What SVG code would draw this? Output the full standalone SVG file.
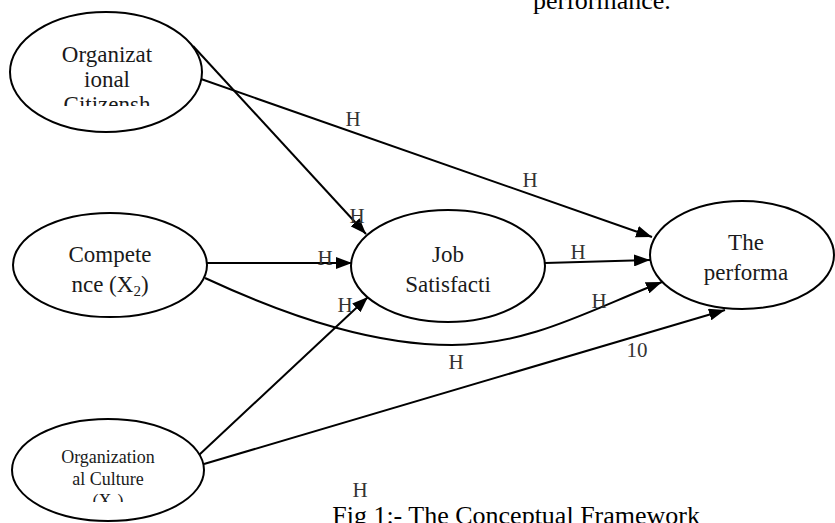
<svg xmlns="http://www.w3.org/2000/svg" width="835" height="523" viewBox="0 0 835 523">
<style>
.node ellipse{fill:#fff;stroke:#000;stroke-width:2}
.nt{font-family:"Liberation Serif","Times New Roman",serif;font-size:23px;fill:#1a1a1a;text-anchor:middle}
.nts{font-family:"Liberation Serif","Times New Roman",serif;font-size:18px;fill:#1a1a1a;text-anchor:middle}
.edge{fill:none;stroke:#000;stroke-width:2}
.lbl{font-family:"Liberation Serif","Times New Roman",serif;font-size:21px;fill:#333;text-anchor:middle}
.cap{font-family:"Liberation Serif","Times New Roman",serif;font-size:26px;fill:#000}
</style>
<defs>
<marker id="arr" markerUnits="userSpaceOnUse" markerWidth="17" markerHeight="12" refX="16" refY="6" orient="auto">
<path d="M0,0 L16,6 L0,12 z" fill="#000"/>
</marker>
<clipPath id="c1"><rect x="0" y="0" width="220" height="106"/></clipPath>
<clipPath id="c3"><rect x="0" y="420" width="220" height="82"/></clipPath>
</defs>
<rect width="835" height="523" fill="#fff"/>
<text class="cap" x="533" y="9">performance.</text>
<g id="connectors">
<path class="edge" d="M193,46 L366,234" marker-end="url(#arr)"/>
<path class="edge" d="M201,79 L652,237" marker-end="url(#arr)"/>
<path class="edge" d="M207,263 L352,263" marker-end="url(#arr)"/>
<path class="edge" d="M205,278 C300,322 380,345 452,345 C530,345 590,310 662,282" marker-end="url(#arr)"/>
<path class="edge" d="M199,455 L368,297" marker-end="url(#arr)"/>
<path class="edge" d="M204,464 L725,310" marker-end="url(#arr)"/>
<path class="edge" d="M545,263 L650,260" marker-end="url(#arr)"/>
<text class="lbl" x="357" y="223">H</text>
<text class="lbl" x="353" y="126">H</text>
<text class="lbl" x="530" y="187">H</text>
<text class="lbl" x="325" y="265">H</text>
<text class="lbl" x="345" y="312">H</text>
<text class="lbl" x="578" y="259">H</text>
<text class="lbl" x="599" y="308">H</text>
<text class="lbl" x="456" y="369">H</text>
<text class="lbl" x="360" y="497">H</text>
<text class="lbl" x="637" y="357">10</text>
</g>
<g id="n-ocb" class="node">
<ellipse cx="106" cy="72" rx="96" ry="60"/>
<g clip-path="url(#c1)">
<text class="nt" x="107" y="62">Organizat</text>
<text class="nt" x="107" y="87">ional</text>
<text class="nt" x="107" y="112">Citizensh</text>
</g>
</g>
<g id="n-comp" class="node">
<ellipse cx="110" cy="265" rx="97" ry="52"/>
<text class="nt" x="110" y="262">Compete</text>
<text class="nt" x="110" y="292">nce (X<tspan font-size="15" dy="4">2</tspan><tspan dy="-4">)</tspan></text>
</g>
<g id="n-cult" class="node">
<ellipse cx="108" cy="470" rx="96" ry="51"/>
<g clip-path="url(#c3)">
<text class="nts" x="108" y="463">Organization</text>
<text class="nts" x="108" y="485">al Culture</text>
<text class="nts" x="108" y="507">(X<tspan font-size="12" dy="3">3</tspan><tspan dy="-3">)</tspan></text>
</g>
</g>
<g id="n-job" class="node">
<ellipse cx="448" cy="266" rx="97" ry="56"/>
<text class="nt" x="448" y="262">Job</text>
<text class="nt" x="448" y="292">Satisfacti</text>
</g>
<g id="n-perf" class="node">
<ellipse cx="742" cy="255" rx="92" ry="54"/>
<text class="nt" x="746" y="250">The</text>
<text class="nt" x="746" y="280">performa</text>
</g>
<text class="cap" x="700" y="524" text-anchor="end">Fig 1:- The Conceptual Framework</text>
</svg>
